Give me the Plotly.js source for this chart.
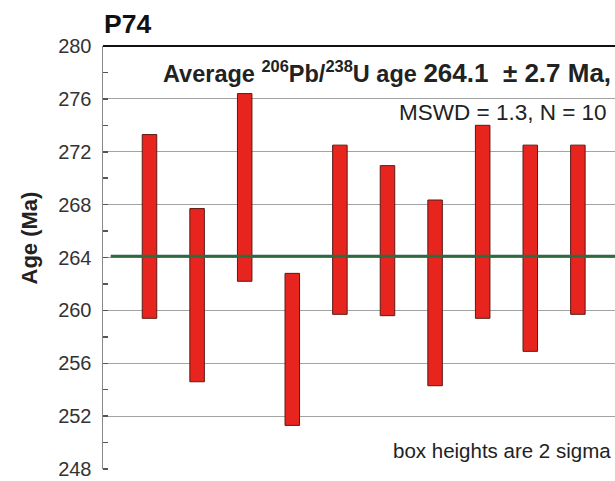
<!DOCTYPE html>
<html><head><meta charset="utf-8">
<script src="https://cdn.plot.ly/plotly-3.0.1.min.js"></script>
<style>html,body{margin:0;padding:0;background:#fff}#c{width:615px;height:481px}</style>
</head><body><div id="c"></div>
<script>
const grains = [1,2,3,4,5,6,7,8,9,10];
const ageHigh = [273.3,267.7,276.4,262.8,272.5,270.95,268.35,274.0,272.5,272.5];
const ageLow  = [259.4,254.6,262.2,251.3,259.7,259.6,254.3,259.4,256.9,259.7];
const meanAge = 264.1;
const yTicks = [248,252,256,260,264,268,272,276,280];

const FONT = '"Liberation Sans", Arial, sans-serif';
const bars = {
  type:'bar', x: grains, base: ageLow, y: ageHigh.map((h,i)=>h-ageLow[i]),
  width: 0.305, marker:{color:'#e8241f', line:{color:'#5a1a14', width:1}},
  hoverinfo:'none', showlegend:false
};
const meanLine = {
  type:'scatter', mode:'lines', x:[0.185, 10.78], y:[meanAge, meanAge],
  line:{color:'#2f6a40', width:3}, showlegend:false, hoverinfo:'none'
};
const layout = {
  width:615, height:481, paper_bgcolor:'#fff', plot_bgcolor:'#fff',
  margin:{l:103, r:0, t:46, b:11.5},
  font:{family:FONT, color:'#333'},
  xaxis:{range:[0.023,10.78], showgrid:false, zeroline:false, showticklabels:false, ticks:'', showline:false, fixedrange:true},
  yaxis:{range:[248,280], tickvals:yTicks, ticktext:yTicks.map(String), showgrid:true, gridcolor:'#a3a3a3', gridwidth:1,
    zeroline:false, showline:true, linecolor:'#8a8a8a', linewidth:1.5, ticks:'', ticklen:0,
    ticklabeloverflow:'allow', ticklabelstandoff:6,
    tickfont:{size:20, color:'#333', family:FONT},
    minor:{dtick:2, tick0:248, ticks:'inside', ticklen:5, tickcolor:'#555', tickwidth:1.5, showgrid:false},
    title:{text:''}},
  shapes:[{type:'line', xref:'paper', yref:'paper', x0:0, x1:1, y0:1, y1:1, line:{color:'#111', width:2}}],
  annotations:[
    {text:'<b>Age (Ma)</b>', textangle:-90, xref:'paper', yref:'paper', x:-0.1445, y:0.545, xanchor:'center', yanchor:'middle', showarrow:false, font:{size:22, color:'#222', family:FONT}},
    {text:'<b>P74</b>', xref:'paper', yref:'paper', x:-0.002, y:1.0527, xanchor:'left', yanchor:'middle', showarrow:false, font:{size:26.5, color:'#111', family:FONT}},
    {text:'<b>Average <sup>206</sup>Pb/<sup>238</sup>U age <span style="font-size:26px">264.1  ± 2.7 Ma,</span></b>', xref:'paper', yref:'y', x:0.114, y:278.0, xanchor:'left', yanchor:'middle', showarrow:false, font:{size:23.5, color:'#222', family:FONT}},
    {text:'MSWD = 1.3, N = 10', xref:'paper', yref:'y', x:0.988, y:274.97, xanchor:'right', yanchor:'middle', showarrow:false, font:{size:22.5, color:'#222', family:FONT}},
    {text:'box heights are 2 sigma', xref:'paper', yref:'y', x:0.996, y:249.4, xanchor:'right', yanchor:'middle', showarrow:false, font:{size:20.5, color:'#222', family:FONT}}
  ]
};
Plotly.newPlot('c', [bars, meanLine], layout, {displayModeBar:false, staticPlot:true});
</script></body></html>
